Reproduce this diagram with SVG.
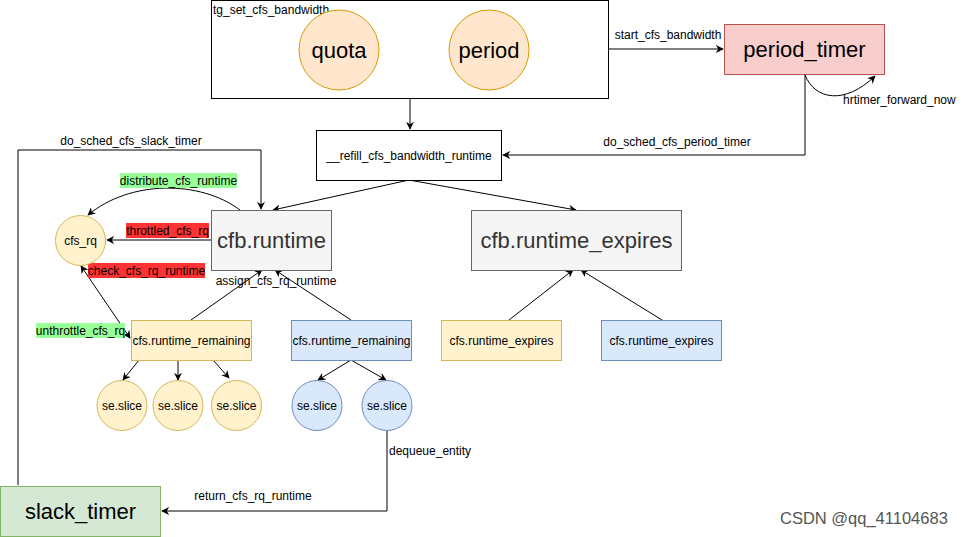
<svg xmlns="http://www.w3.org/2000/svg" width="965" height="537" viewBox="0 0 965 537">
<defs>
<marker id="arr" viewBox="0 0 10 10" refX="9" refY="5" markerWidth="8" markerHeight="8" markerUnits="userSpaceOnUse" orient="auto-start-reverse">
<path d="M0,0 L10,5 L0,10 L3,5 z" fill="#000"/>
</marker>
<style>
text{font-family:"Liberation Sans",Arial,sans-serif;fill:#000}
.s{font-size:12px}
.b{font-size:22px}
.c{text-anchor:middle}
.ln{fill:none;stroke:#000;stroke-width:1}
.y{fill:#fff2cc;stroke:#d6b656}
.bl{fill:#dae8fc;stroke:#6c8ebf}
.g{fill:#f5f5f5;stroke:#666}
</style>
</defs>
<rect width="965" height="537" fill="#fff"/>
<g id="connectors">
<path class="ln" d="M410,99 V129" marker-end="url(#arr)"/>
<path class="ln" d="M609,49 H723" marker-end="url(#arr)"/>
<path class="ln" d="M805,75 C815,100 845,105 875,76" marker-end="url(#arr)"/>
<path class="ln" d="M805,75 V155 H503" marker-end="url(#arr)"/>
<path class="ln" d="M409,180 L273,210" marker-end="url(#arr)"/>
<path class="ln" d="M409,180 L576,210" marker-end="url(#arr)"/>
<path class="ln" d="M18,485 V150 H261 V209" marker-end="url(#arr)"/>
<path class="ln" d="M240,210 C200,180 130,180 88,215" marker-end="url(#arr)"/>
<path class="ln" d="M212,240 H107" marker-end="url(#arr)"/>
<path class="ln" d="M81,266 L130,338" marker-start="url(#arr)" marker-end="url(#arr)"/>
<path class="ln" d="M191,320 L262,270" marker-end="url(#arr)"/>
<path class="ln" d="M351,320 L275,270" marker-end="url(#arr)"/>
<path class="ln" d="M139,360 L123,380" marker-end="url(#arr)"/>
<path class="ln" d="M178,360 V380" marker-end="url(#arr)"/>
<path class="ln" d="M213,360 L229,378" marker-end="url(#arr)"/>
<path class="ln" d="M351,360 L318,380" marker-end="url(#arr)"/>
<path class="ln" d="M351,360 L386,380" marker-end="url(#arr)"/>
<path class="ln" d="M509,320 L573,270" marker-end="url(#arr)"/>
<path class="ln" d="M662,320 L581,270" marker-end="url(#arr)"/>
<path class="ln" d="M387,430 V511 H162" marker-end="url(#arr)"/>
<text class="s c" x="668" y="39">start_cfs_bandwidth</text>
<text class="s" x="843" y="104">hrtimer_forward_now</text>
<text class="s c" x="677" y="146">do_sched_cfs_period_timer</text>
<text class="s c" x="131" y="145">do_sched_cfs_slack_timer</text>
<rect x="120" y="173" width="117" height="15" fill="#99ff99"/>
<text class="s c" x="178.5" y="185">distribute_cfs_runtime</text>
<rect x="126" y="223" width="83" height="15" fill="#ff3333"/>
<text class="s c" x="167.5" y="235">throttled_cfs_rq</text>
<rect x="88" y="263" width="117" height="15" fill="#ff3333"/>
<text class="s c" x="146.5" y="275">check_cfs_rq_runtime</text>
<rect x="36" y="323" width="89" height="15" fill="#99ff99"/>
<text class="s c" x="80.5" y="335">unthrottle_cfs_rq</text>
<text class="s c" x="276" y="285">assign_cfs_rq_runtime</text>
<text class="s" x="389" y="455">dequeue_entity</text>
<text class="s c" x="253" y="500">return_cfs_rq_runtime</text>
</g>
<g id="tg_set_cfs_bandwidth">
<rect x="211.5" y="0.5" width="397" height="98" fill="#fff" stroke="#000"/>
<text class="s" x="213" y="14">tg_set_cfs_bandwidth</text>
</g>
<g id="quota">
<circle cx="339" cy="50" r="40" fill="#ffe6cc" stroke="#d79b00"/>
<text class="b c" x="339" y="58">quota</text>
</g>
<g id="period">
<circle cx="489" cy="50" r="40" fill="#ffe6cc" stroke="#d79b00"/>
<text class="b c" x="489" y="58">period</text>
</g>
<g id="period_timer">
<rect x="724.5" y="24.5" width="160" height="50" fill="#f8cecc" stroke="#b85450"/>
<text class="b c" x="804.5" y="57">period_timer</text>
</g>
<g id="refill">
<rect x="316.5" y="130.5" width="185" height="50" fill="#fff" stroke="#000"/>
<text class="s c" x="409" y="160">__refill_cfs_bandwidth_runtime</text>
</g>
<g id="cfb_runtime">
<rect x="211.5" y="210.5" width="120" height="60" class="g"/>
<text class="b c" x="271.5" y="248" style="fill:#333">cfb.runtime</text>
</g>
<g id="cfb_runtime_expires">
<rect x="471.5" y="210.5" width="210" height="60" class="g"/>
<text class="b c" x="576.5" y="248" style="fill:#333">cfb.runtime_expires</text>
</g>
<g id="cfs_rq">
<circle cx="80.5" cy="240.5" r="25" class="y"/>
<text class="s c" x="80.5" y="244.5">cfs_rq</text>
</g>
<g id="rem_yellow">
<rect x="131.5" y="320.5" width="120" height="40" class="y"/>
<text class="s c" x="191.5" y="344.5">cfs.runtime_remaining</text>
</g>
<g id="rem_blue">
<rect x="291.5" y="320.5" width="120" height="40" class="bl"/>
<text class="s c" x="351.5" y="344.5">cfs.runtime_remaining</text>
</g>
<g id="exp_yellow">
<rect x="441.5" y="320.5" width="120" height="40" class="y"/>
<text class="s c" x="501.5" y="344.5">cfs.runtime_expires</text>
</g>
<g id="exp_blue">
<rect x="601.5" y="320.5" width="120" height="40" class="bl"/>
<text class="s c" x="661.5" y="344.5">cfs.runtime_expires</text>
</g>
<g id="slice1"><circle cx="122" cy="405.5" r="25" class="y"/><text class="s c" x="122" y="409.5">se.slice</text></g>
<g id="slice2"><circle cx="178" cy="405.5" r="25" class="y"/><text class="s c" x="178" y="409.5">se.slice</text></g>
<g id="slice3"><circle cx="236.5" cy="405.5" r="25" class="y"/><text class="s c" x="236.5" y="409.5">se.slice</text></g>
<g id="slice4"><circle cx="317" cy="405.5" r="25" class="bl"/><text class="s c" x="317" y="409.5">se.slice</text></g>
<g id="slice5"><circle cx="387" cy="405.5" r="25" class="bl"/><text class="s c" x="387" y="409.5">se.slice</text></g>
<g id="slack_timer">
<rect x="0.5" y="486.5" width="160" height="50" fill="#d5e8d4" stroke="#82b366"/>
<text class="b c" x="80.5" y="519">slack_timer</text>
</g>
<text x="780" y="524" style="font-size:16.5px;fill:#555">CSDN @qq_41104683</text>
</svg>
